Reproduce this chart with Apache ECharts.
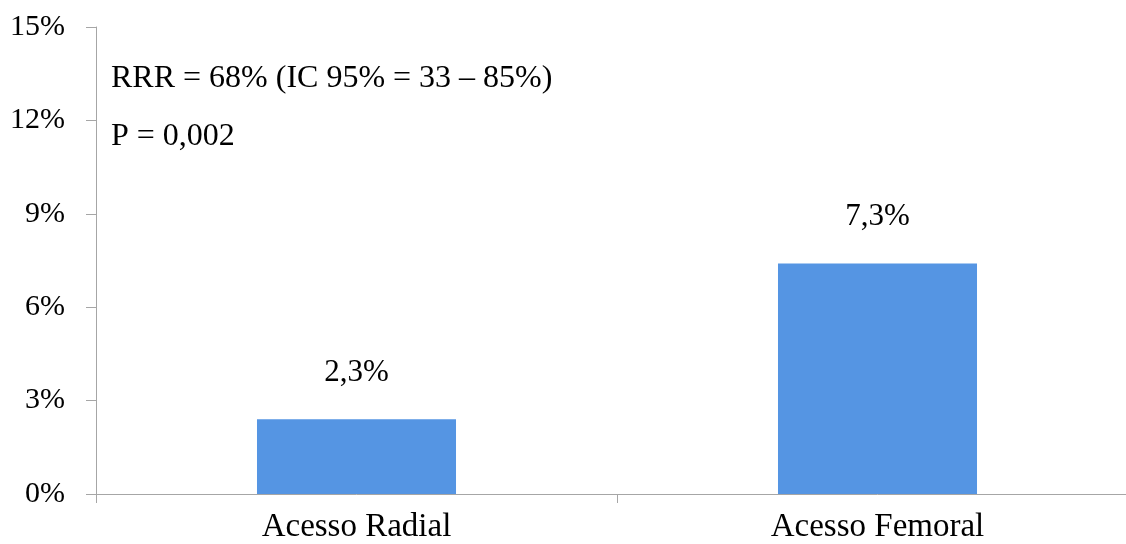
<!DOCTYPE html>
<html>
<head>
<meta charset="utf-8">
<script src="https://cdn.jsdelivr.net/npm/echarts@6/dist/echarts.min.js"></script>
<style>
html,body{margin:0;padding:0;background:#fff;overflow:hidden;width:1126px;height:544px;}
#chart{width:1138px;height:544px;}
</style>
</head>
<body>
<div id="chart"></div>
<script>
const categories = ["Acesso Radial", "Acesso Femoral"];
const values = [2.4, 7.4];
const valueLabels = ["2,3%", "7,3%"];
const annotations = ["RRR = 68% (IC 95% = 33 – 85%)", "P = 0,002"];

const FONT = "'Liberation Serif', 'Times New Roman', serif";
const chart = echarts.init(document.getElementById('chart'), null, {renderer: 'canvas'});
chart.setOption({
  animation: false,
  backgroundColor: '#ffffff',
  grid: {left: 96, top: 27, right: 0, bottom: 50, containLabel: false},
  xAxis: {
    type: 'category',
    data: categories,
    axisLine: {lineStyle: {color: '#a6a6a6', width: 1}},
    axisTick: {show: true, length: 9, lineStyle: {color: '#a6a6a6'}},
    axisLabel: {color: '#000', fontFamily: FONT, fontSize: 33, margin: 17}
  },
  yAxis: {
    type: 'value',
    min: 0, max: 15, interval: 3,
    axisLine: {show: true, lineStyle: {color: '#a6a6a6', width: 1}},
    axisTick: {show: true, length: 10, lineStyle: {color: '#a6a6a6'}},
    splitLine: {show: false},
    axisLabel: {color: '#000', fontFamily: FONT, fontSize: 30, margin: 31, formatter: v => v + '%'}
  },
  graphic: annotations.map((t, i) => ({
    type: 'text',
    left: 111,
    top: i === 0 ? 63 : 121,
    style: {text: t, font: '32px ' + FONT, fill: '#000'}
  })),
  series: [{
    type: 'bar',
    data: values,
    barWidth: '38.2%',
    itemStyle: {color: '#5595e3'},
    label: {
      show: true,
      position: 'top',
      distance: 31,
      color: '#000',
      fontFamily: FONT,
      fontSize: 31,
      formatter: p => valueLabels[p.dataIndex]
    }
  }]
});
</script>
</body>
</html>
